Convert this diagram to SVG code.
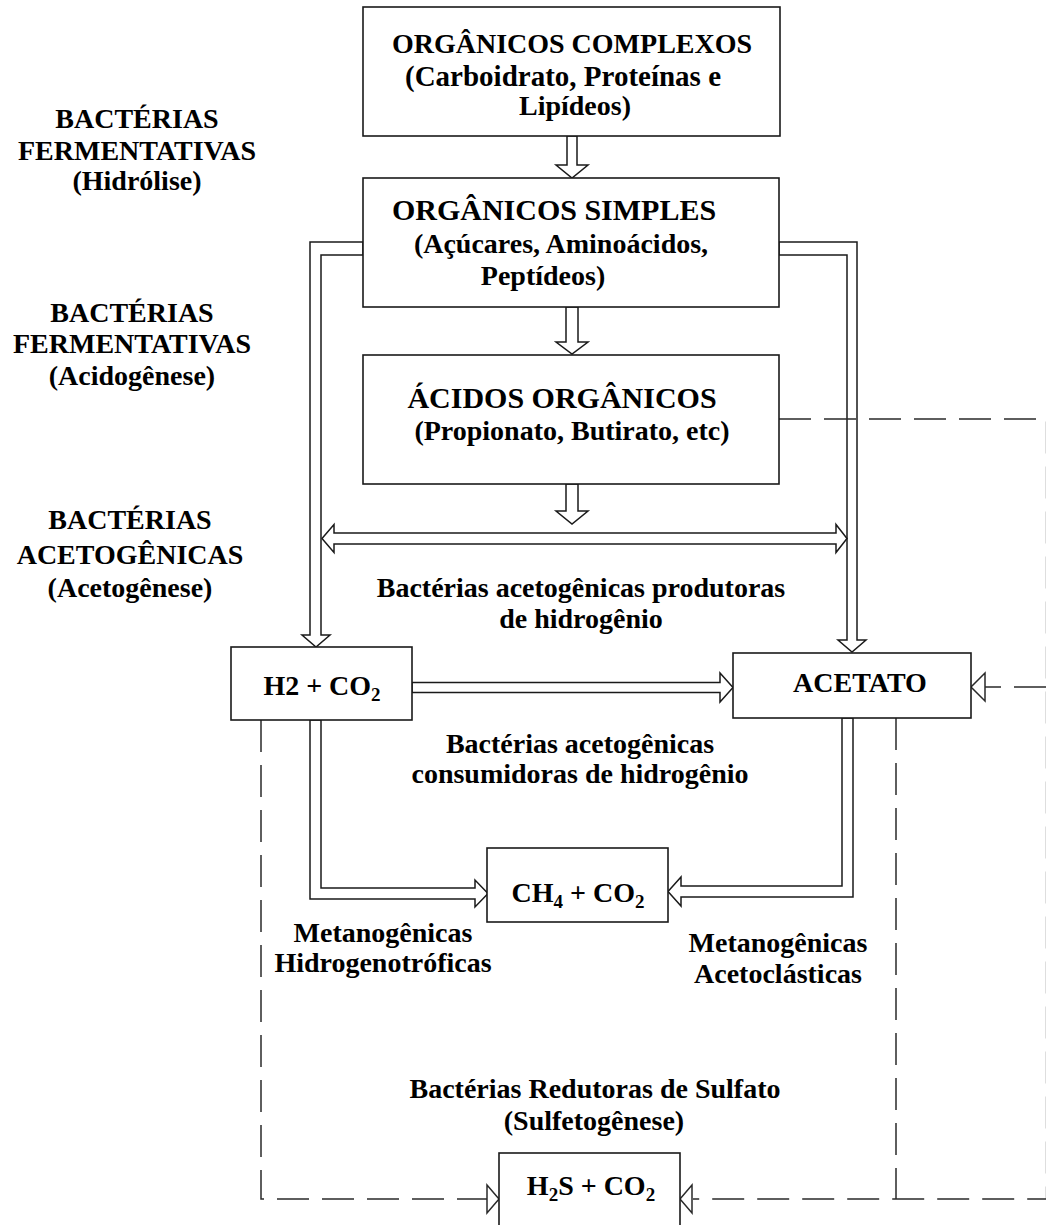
<svg xmlns="http://www.w3.org/2000/svg" width="1046" height="1225" viewBox="0 0 1046 1225">
<style>
.box{fill:#fff;stroke:#1a1a1a;stroke-width:1.6}
.t{font-family:"Liberation Serif","Times New Roman",serif;font-weight:bold;font-size:28px;fill:#000;text-anchor:middle}
.ar{fill:#fff;stroke:#1a1a1a;stroke-width:1.5;stroke-linejoin:miter}
.ds{fill:none;stroke:#2a2a2a;stroke-width:1.5;stroke-dasharray:32 13}
.hd{fill:#fff;stroke:#2a2a2a;stroke-width:1.5}
.sub{font-size:19px}
</style>
<rect width="1046" height="1225" fill="#fff"/>

<g id="labels-left">
<text class="t" x="137" y="128">BACTÉRIAS</text>
<text class="t" x="137" y="160">FERMENTATIVAS</text>
<text class="t" x="137" y="190">(Hidrólise)</text>
<text class="t" x="132" y="322">BACTÉRIAS</text>
<text class="t" x="132" y="353">FERMENTATIVAS</text>
<text class="t" x="132" y="385">(Acidogênese)</text>
<text class="t" x="130" y="529">BACTÉRIAS</text>
<text class="t" x="130" y="564">ACETOGÊNICAS</text>
<text class="t" x="130" y="597">(Acetogênese)</text>
</g>

<g id="connectors">
<polygon class="ar" points="567,136 577,136 577,165 588,165 572,178 556,165 567,165"/>
<polygon class="ar" points="566,307 578,307 578,342 588,342 572,354 556,342 566,342"/>
<polygon class="ar" points="566,484 578,484 578,511 588,511 572,524 556,511 566,511"/>
<polygon class="ar" points="363,242 310,242 310,635 302,635 316,647 330,635 321,635 321,255 363,255"/>
<polygon class="ar" points="779,242 857,242 857,640 866,640 852,652 838,640 847,640 847,255 779,255"/>
<polygon class="ar" points="322,538.5 334,524.5 334,533 836,533 836,524.5 847,538.5 836,552.5 836,544 334,544 334,552.5"/>
<polygon class="ar" points="412,682.5 720,682.5 720,673 733,687.5 720,702 720,692.5 412,692.5"/>
<polygon class="ar" points="310,720 310,899 475,899 475,907 488,893.5 475,880 475,888 321,888 321,720"/>
<polygon class="ar" points="853,718 853,897 681,897 681,906 668,891.5 681,877 681,886 842,886 842,718"/>
<path class="ds" d="M779,419 H1046.6 V1199 H693"/>
<path class="ds" d="M1046,687 H985"/>
<polygon class="hd" points="985,673 971,687 985,701"/>
<path class="ds" d="M261,720 V1199 H488"/>
<polygon class="hd" points="487,1185 499,1199 487,1213"/>
<polygon class="hd" points="692,1185 680,1199 692,1213"/>
<path class="ds" d="M896,718 V1199"/>
</g>

<g id="node-complexos">
<rect class="box" x="363" y="7" width="417" height="129"/>
<text class="t" x="572" y="53">ORGÂNICOS COMPLEXOS</text>
<text class="t" x="563" y="86" style="font-size:29px">(Carboidrato, Proteínas e</text>
<text class="t" x="575" y="115">Lipídeos)</text>
</g>

<g id="node-simples">
<rect class="box" x="363" y="178" width="416" height="129"/>
<text class="t" x="554" y="220" style="font-size:30px">ORGÂNICOS SIMPLES</text>
<text class="t" x="561" y="253">(Açúcares, Aminoácidos,</text>
<text class="t" x="543" y="285">Peptídeos)</text>
</g>

<g id="node-acidos">
<rect class="box" x="363" y="355" width="416" height="129"/>
<text class="t" x="562" y="408" style="font-size:30px">ÁCIDOS ORGÂNICOS</text>
<text class="t" x="572" y="440">(Propionato, Butirato, etc)</text>
</g>

<g id="labels-mid">
<text class="t" x="581" y="597">Bactérias acetogênicas produtoras</text>
<text class="t" x="581" y="628">de hidrogênio</text>
<text class="t" x="580" y="753">Bactérias acetogênicas</text>
<text class="t" x="580" y="783">consumidoras de hidrogênio</text>
<text class="t" x="383" y="942">Metanogênicas</text>
<text class="t" x="383" y="972">Hidrogenotróficas</text>
<text class="t" x="778" y="952">Metanogênicas</text>
<text class="t" x="778" y="983">Acetoclásticas</text>
<text class="t" x="595" y="1098">Bactérias Redutoras de Sulfato</text>
<text class="t" x="594" y="1130">(Sulfetogênese)</text>
</g>

<g id="node-h2">
<rect class="box" x="231" y="647" width="181" height="73"/>
<text class="t" x="322" y="695">H2 + CO<tspan class="sub" dy="6">2</tspan></text>
</g>

<g id="node-acetato">
<rect class="box" x="733" y="653" width="238" height="65"/>
<text class="t" x="860" y="692">ACETATO</text>
</g>

<g id="node-ch4">
<rect class="box" x="487" y="848" width="181" height="74"/>
<text class="t" x="578" y="902">CH<tspan class="sub" dy="6">4</tspan><tspan dy="-6"> + CO</tspan><tspan class="sub" dy="6">2</tspan></text>
</g>

<g id="node-h2s">
<rect class="box" x="499" y="1153" width="181" height="90"/>
<text class="t" x="591" y="1195">H<tspan class="sub" dy="6">2</tspan><tspan dy="-6">S + CO</tspan><tspan class="sub" dy="6">2</tspan></text>
</g>
</svg>
